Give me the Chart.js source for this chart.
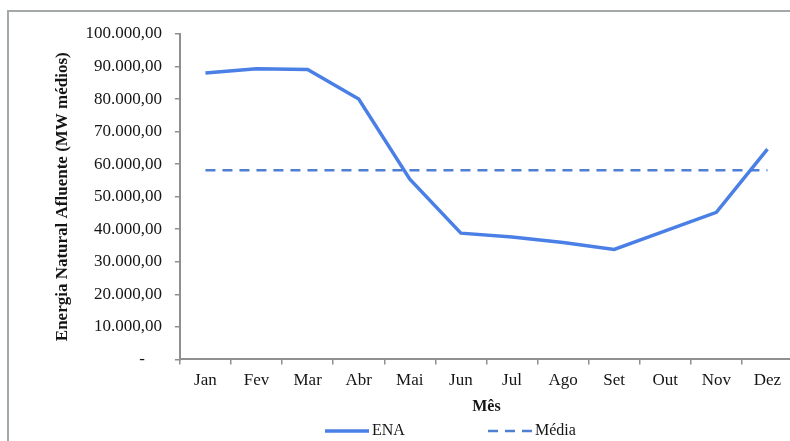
<!DOCTYPE html>
<html>
<head>
<meta charset="utf-8">
<script src="https://cdn.jsdelivr.net/npm/chart.js@4/dist/chart.umd.min.js"></script>
<style>
    html, body { margin: 0; padding: 0; background: #fff; overflow: hidden; }
    #frame { position: absolute; left: 7px; top: 10px; width: 830px; height: 470px; border: 2px solid #a3a9a9; }
    #wrap { position: absolute; left: 0; top: 0; width: 800px; height: 441px; }
</style>
</head>
<body>
<div id="frame"></div>
<div id="wrap"><canvas id="enaChart"></canvas></div>
<script>
// Chart data
const months = ['Jan', 'Fev', 'Mar', 'Abr', 'Mai', 'Jun', 'Jul', 'Ago', 'Set', 'Out', 'Nov', 'Dez'];
const enaValues = [88000, 89300, 89100, 80000, 55400, 38800, 37600, 35900, 33800, 39500, 45200, 64600];
const mediaValues = [58100, 58100, 58100, 58100, 58100, 58100, 58100, 58100, 58100, 58100, 58100, 58100];
const yMax = 100000;
const yStep = 10000;

const serif = '"Liberation Serif", "Times New Roman", serif';

// "90.000,00" style labels, zero shown as a dash
function formatTick(value) {
    if (value === 0) return '-    ';
    const whole = Math.round(value).toString().replace(/\B(?=(\d{3})+(?!\d))/g, '.');
    return whole + ',00';
}

// Legend drawn below the axis title, like the spreadsheet original
const bottomLegend = {
    id: 'bottomLegend',
    afterDraw(chart) {
        const ctx = chart.ctx;
        const y = 431;
        let x = 325;
        chart.data.datasets.forEach(ds => {
            ctx.save();
            ctx.strokeStyle = ds.borderColor;
            ctx.lineWidth = ds.borderWidth;
            ctx.setLineDash(ds.borderDash || []);
            ctx.beginPath();
            ctx.moveTo(x, y);
            ctx.lineTo(x + 44, y);
            ctx.stroke();
            ctx.restore();

            ctx.save();
            ctx.font = '16px ' + serif;
            ctx.fillStyle = '#151515';
            ctx.textBaseline = 'middle';
            ctx.fillText(ds.label, x + 47, y);
            ctx.restore();
            x += 163;
        });
    }
};

function renderEnaChart() {
    const ctx = document.getElementById('enaChart').getContext('2d');
    new Chart(ctx, {
        type: 'line',
        data: {
            labels: months,
            datasets: [{
                label: 'ENA',
                data: enaValues,
                borderColor: '#4a7fe6',
                borderWidth: 3.5,
                pointRadius: 0,
                tension: 0,
                fill: false
            }, {
                label: 'Média',
                data: mediaValues,
                borderColor: '#4e7fd2',
                borderWidth: 2.5,
                borderDash: [10, 7],
                pointRadius: 0,
                fill: false
            }]
        },
        options: {
            responsive: true,
            maintainAspectRatio: false,
            animation: false,
            layout: {
                padding: { top: 34, left: 52, right: 7, bottom: 25 }
            },
            plugins: {
                legend: { display: false },
                tooltip: { enabled: false }
            },
            scales: {
                x: {
                    offset: true,
                    grid: {
                        offset: true,
                        drawOnChartArea: false,
                        drawTicks: true,
                        tickLength: 5,
                        color: '#8e9090',
                        lineWidth: 1.5
                    },
                    border: { display: true, color: '#8e9090', width: 2 },
                    ticks: {
                        color: '#151515',
                        font: { family: serif, size: 17 },
                        padding: 6,
                        maxRotation: 0
                    },
                    title: {
                        display: true,
                        text: 'Mês',
                        color: '#151515',
                        font: { family: serif, size: 16, weight: 'bold' },
                        padding: { top: 0, bottom: 0 }
                    }
                },
                y: {
                    min: 0,
                    max: yMax,
                    grid: {
                        drawOnChartArea: false,
                        drawTicks: true,
                        tickLength: 5,
                        color: '#8e9090',
                        lineWidth: 1.5
                    },
                    border: { display: true, color: '#8e9090', width: 2 },
                    ticks: {
                        stepSize: yStep,
                        color: '#151515',
                        font: { family: serif, size: 17 },
                        padding: 13,
                        callback: formatTick
                    },
                    title: {
                        display: true,
                        text: 'Energia Natural Afluente (MW médios)',
                        color: '#151515',
                        font: { family: serif, size: 17, weight: 'bold' },
                        padding: { top: 0, bottom: 0 }
                    }
                }
            }
        },
        plugins: [bottomLegend]
    });
}

document.addEventListener('DOMContentLoaded', function() {
    renderEnaChart();
});
</script>
</body>
</html>
